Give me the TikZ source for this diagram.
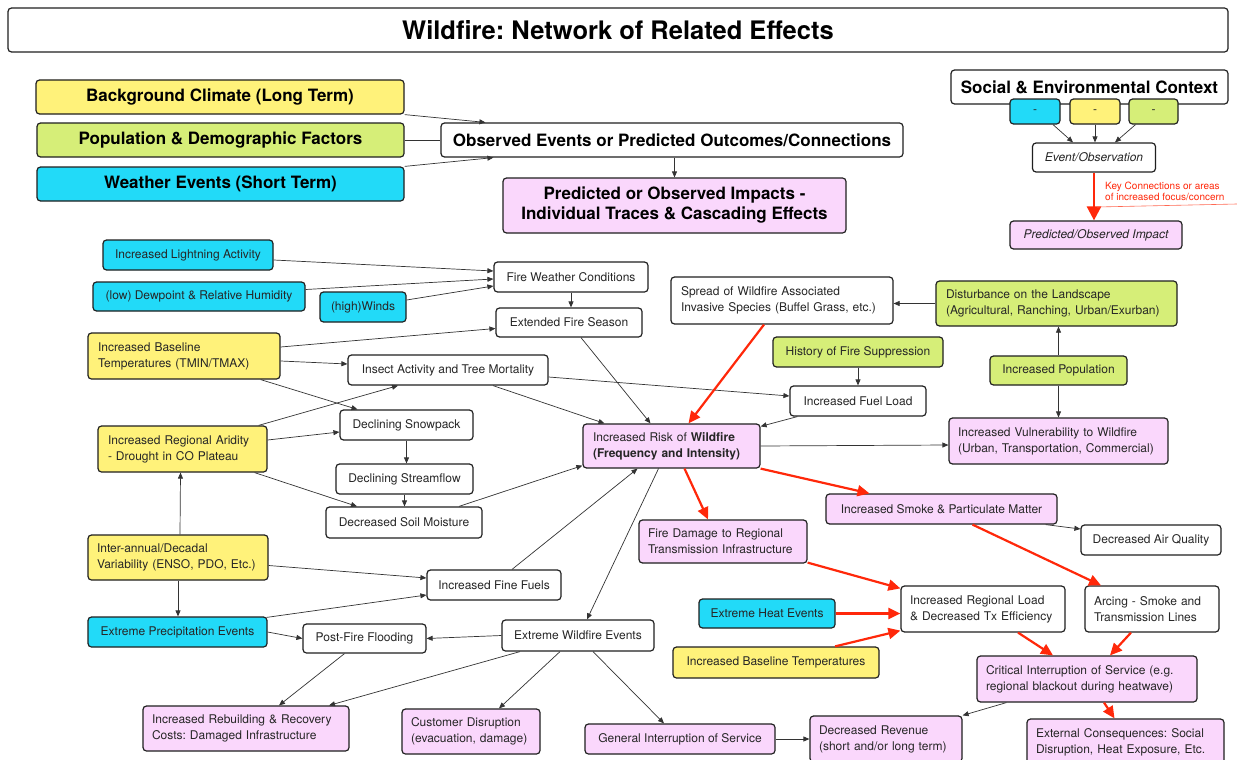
\documentclass[tikz,border=0pt]{standalone}
\usepackage{fontspec}
\setmainfont{TeX Gyre Heros}
\usetikzlibrary{arrows.meta,calc}
\definecolor{cyl}{HTML}{FFF27A}
\definecolor{cgr}{HTML}{D6EE78}
\definecolor{ccy}{HTML}{22DAF8}
\definecolor{cpk}{HTML}{FAD7FC}
\definecolor{cred}{RGB}{255,40,10}
\frenchspacing
\tikzset{
  bx/.style={draw=black!88, line width=1.2pt, rounded corners=3.5pt, inner sep=0pt,
     font=\fontsize{12}{16}\selectfont, text=black!85},
  wbox/.style={bx, fill=white},
  ybox/.style={bx, fill=cyl},
  gbox/.style={bx, fill=cgr},
  cbox/.style={bx, fill=ccy},
  pbox/.style={bx, fill=cpk},
  sz/.style 2 args={minimum width=#1, minimum height=#2},
  lt/.style={align=left, text width=#1},
  lgf/.style={font=\fontsize{17}{20}\selectfont\bfseries, text=black},
  ed/.style={draw=black!80, line width=0.7pt, -{Triangle[length=6pt,width=5pt]}},
  kedge/.style={draw=cred, line width=2.2pt, -{Triangle[length=12pt,width=11pt]}}
}
\begin{document}
\begin{tikzpicture}[x=1pt,y=-1pt]
\fill[white] (0,0) rectangle (1237,760);
\useasboundingbox (0,0) rectangle (1237,760);

% title
\node[wbox, sz={1220}{44}, font=\fontsize{25.5}{30}\selectfont\bfseries, text=black] (title) at (618,30) {Wildfire: Network of Related Effects};

% legend left
\node[ybox, sz={368}{34}, lgf] (lgclim) at (220,97) {Background Climate (Long Term)};
\node[gbox, sz={367}{34}, lgf] (lgpop) at (220.5,140) {Population \& Demographic Factors};
\node[cbox, sz={367}{34}, lgf] (lgweath) at (220.5,184) {Weather Events (Short Term)};
\node[wbox, sz={462}{34}, lgf] (lgobs) at (672,140) {Observed Events or Predicted Outcomes/Connections};
\node[pbox, sz={343}{55}, lgf, align=center] (lgimp) at (674.5,205.5) {Predicted or Observed Impacts -\\Individual Traces \& Cascading Effects};
\draw[ed] (lgclim.south east) -- ($(lgobs.north west)+(45,0)$);
\draw[draw=black!80, line width=0.7pt] (lgpop.east) -- (lgobs.west);
\draw[ed] (lgweath.north east) -- ($(lgobs.south west)+(53,0)$);
\draw[ed] (lgobs.south -| lgimp.north) -- (lgimp.north);

% legend right
\node[wbox, sz={277}{34}, lgf] (ctx) at (1089.5,87) {Social \& Environmental Context};
\node[cbox, sz={50}{25}] (c1) at (1035,111.5) {-};
\node[ybox, sz={50}{25}] (c2) at (1095,111.5) {-};
\node[gbox, sz={49}{25}] (c3) at (1153.5,111.5) {-};
\node[wbox, sz={123}{29}, font=\fontsize{12}{14}\selectfont\itshape] (evobs) at (1094,157.5) {Event/Observation};
\node[pbox, sz={172}{28}, font=\fontsize{12}{14}\selectfont\itshape] (pimp) at (1096,235) {Predicted/Observed Impact};
\draw[ed] ($(c1.south)+(18,0)$) -- ($(evobs.north)+(-21,0)$);
\draw[ed] (c2.south) -- (c2.south |- evobs.north);
\draw[ed] ($(c3.south)+(-18,0)$) -- ($(evobs.north)+(21,0)$);
\draw[kedge, line width=2.6pt, -{Triangle[length=14pt,width=14pt]}] (evobs.south) -- (evobs.south |- pimp.north);
\node[text=cred, font=\fontsize{10}{10.5}\selectfont, align=left, anchor=west, inner sep=0pt] (keytxt) at (1105,191.5) {Key Connections or areas\\of increased focus/concern};
\coordinate (keyA) at (1097,207);
\coordinate (keyB) at (1237,204);
\draw[cred!70, line width=0.6pt] (keyA) -- (keyB);

% main nodes
\node[cbox, sz={170}{30}] (light) at (188,255) {Increased Lightning Activity};
\node[cbox, sz={212}{29}] (dew) at (199,296.5) {(low) Dewpoint \& Relative Humidity};
\node[cbox, sz={86}{30}] (winds) at (363,307) {(high)Winds};
\node[wbox, sz={154}{30}] (fwc) at (571,277) {Fire Weather Conditions};
\node[wbox, sz={146}{29}] (efs) at (569,322.5) {Extended Fire Season};
\node[ybox, sz={192}{46}, lt=172] (btemp) at (184,356) {Increased Baseline\\Temperatures (TMIN/TMAX)};
\node[wbox, sz={200}{30}] (insect) at (448,370) {Insect Activity and Tree Mortality};
\node[wbox, sz={133}{30}] (snow) at (406.5,425) {Declining Snowpack};
\node[ybox, sz={169}{46}, lt=149] (arid) at (182.5,449) {Increased Regional Aridity\\- Drought in CO Plateau};
\node[wbox, sz={137}{30}] (stream) at (404.5,479) {Declining Streamflow};
\node[wbox, sz={156}{31}] (soil) at (404,522.5) {Decreased Soil Moisture};
\node[wbox, sz={222}{47}, lt=202] (spread) at (782,300.5) {Spread of Wildfire Associated\\Invasive Species (Buffel Grass, etc.)};
\node[gbox, sz={241}{45}, lt=221] (disturb) at (1056.5,303.5) {Disturbance on the Landscape\\(Agricultural, Ranching, Urban/Exurban)};
\node[gbox, sz={170}{30}] (hist) at (858,352) {History of Fire Suppression};
\node[gbox, sz={137}{29}] (pop) at (1058.5,370.5) {Increased Population};
\node[wbox, sz={136}{30}] (fuel) at (858,401) {Increased Fuel Load};
\node[pbox, sz={177}{44}, lt=157] (risk) at (671.5,446) {Increased Risk of \textbf{Wildfire}\\\textbf{(Frequency and Intensity)}};
\node[pbox, sz={219}{46}, lt=201] (vuln) at (1058.5,441) {Increased Vulnerability to Wildfire\\(Urban, Transportation, Commercial)};
\node[pbox, sz={231}{30}] (smoke) at (941.5,509) {Increased Smoke \& Particulate Matter};
\node[wbox, sz={140}{30}] (air) at (1151,540) {Decreased Air Quality};
\node[pbox, sz={168}{43}, lt=150] (firedmg) at (723,541.5) {Fire Damage to Regional\\Transmission Infrastructure};
\node[ybox, sz={180}{45}, lt=162] (inter) at (178,557.5) {Inter-annual/Decadal\\Variability (ENSO, PDO, Etc.)};
\node[wbox, sz={134}{30}] (fine) at (494,585) {Increased Fine Fuels};
\node[cbox, sz={179}{30}] (precip) at (177.5,632) {Extreme Precipitation Events};
\node[wbox, sz={123}{29}] (flood) at (364.5,638.5) {Post-Fire Flooding};
\node[wbox, sz={152}{31}] (ewe) at (578,635.5) {Extreme Wildfire Events};
\node[cbox, sz={136}{29}] (heat) at (767,613.5) {Extreme Heat Events};
\node[wbox, sz={164}{46}, lt=146] (rload) at (983,609) {Increased Regional Load\\\& Decreased Tx Efficiency};
\node[wbox, sz={134}{46}, lt=116] (arcing) at (1152,609) {Arcing - Smoke and\\Transmission Lines};
\node[ybox, sz={206}{31}] (btemp2) at (776,662.5) {Increased Baseline Temperatures};
\node[pbox, sz={220}{46}, lt=202] (crit) at (1087,679) {Critical Interruption of Service (e.g.\\regional blackout during heatwave)};
\node[pbox, sz={206}{45}, lt=188] (rebuild) at (246,728.5) {Increased Rebuilding \& Recovery\\Costs: Damaged Infrastructure};
\node[pbox, sz={138}{45}, lt=120] (cust) at (471,731.5) {Customer Disruption\\(evacuation, damage)};
\node[pbox, sz={190}{30}] (gis) at (680,739) {General Interruption of Service};
\node[pbox, sz={152}{46}, lt=134] (rev) at (886,739) {Decreased Revenue\\(short and/or long term)};
\node[pbox, sz={197}{46}, lt=179] (ext) at (1125.5,742) {External Consequences: Social\\Disruption, Heat Exposure, Etc.};

% black connectors
\draw[ed] ($(light.east)+(0,5)$) -- ($(fwc.west)+(0,-6)$);
\draw[ed] ($(dew.east)+(0,-7)$) -- ($(fwc.west)+(0,2)$);
\draw[ed] ($(winds.east)+(0,-7)$) -- ($(fwc.west)+(0,9)$);
\draw[ed] (fwc.south) -- (fwc.south |- efs.north);
\draw[ed] ($(btemp.east)+(0,-9)$) -- ($(efs.west)+(0,6)$);
\draw[ed] ($(btemp.east)+(0,5)$) -- ($(insect.west)+(0,-6)$);
\draw[ed] ($(btemp.south east)+(-20,0)$) -- ($(snow.north)+(-49,0)$);
\draw[ed] ($(arid.north east)+(-9,0)$) -- ($(insect.south)+(-50,0)$);
\draw[ed] ($(arid.east)+(0,-9)$) -- ($(snow.west)+(0,7)$);
\draw[ed] ($(arid.south east)+(-13,0)$) -- ($(soil.north)+(-47,0)$);
\draw[ed] (snow.south) -- (snow.south |- stream.north);
\draw[ed] (stream.south) -- (stream.south |- soil.north);
\draw[ed] ($(soil.north)+(55,0)$) -- ($(risk.south west)+(0,-3)$);
\draw[ed] ($(efs.south)+(12,0)$) -- ($(risk.north)+(-21,0)$);
\draw[ed] ($(insect.south)+(45,0)$) -- ($(risk.north)+(-67,0)$);
\draw[ed] ($(insect.east)+(0,7)$) -- ($(fuel.west)+(0,-5)$);
\draw[ed] (hist.south) -- (hist.south |- fuel.north);
\draw[ed] ($(fuel.south west)+(8,0)$) -- ($(risk.north east)+(0,3)$);
\draw[ed] (disturb.west) -- (disturb.west -| spread.east);
\draw[ed] (pop.north) -- (pop.north |- disturb.south);
\draw[ed] (pop.south) -- (pop.south |- vuln.north);
\draw[ed] (risk.east) -- ($(vuln.west)+(0,4)$);
\draw[ed] ($(inter.north)+(2,0)$) -- ($(arid.south)+(-2,0)$);
\draw[ed] (inter.south) -- (inter.south |- precip.north);
\draw[ed] ($(inter.east)+(0,8)$) -- ($(fine.west)+(0,-7)$);
\draw[ed] ($(precip.north east)+(-1,1)$) -- ($(fine.west)+(0,10)$);
\draw[ed] (precip.east) -- (flood.west);
\draw[ed] ($(fine.north)+(18,0)$) -- ($(risk.south)+(-34,0)$);
\draw[ed] ($(risk.south)+(-13,0)$) -- ($(ewe.north)+(9,0)$);
\draw[ed] (ewe.west) -- (flood.east);
\draw[ed] ($(flood.south)+(-20,0)$) -- ($(rebuild.north)+(33,0)$);
\draw[ed] ($(ewe.south)+(-58,0)$) -- ($(rebuild.north)+(83,0)$);
\draw[ed] ($(ewe.south)+(-18,0)$) -- ($(cust.north)+(28,0)$);
\draw[ed] ($(ewe.south)+(15,0)$) -- ($(gis.north)+(-16,0)$);
\draw[ed] (gis.east) -- (rev.west);
\draw[ed] ($(crit.south west)+(30,0)$) -- (rev.north east);
\draw[ed] ($(smoke.south east)+(-12,0)$) -- ($(air.west)+(0,-11)$);

% red key connectors
\draw[kedge] ($(spread.south)+(-18,0)$) -- ($(risk.north)+(17,0)$);
\draw[kedge] ($(risk.south)+(13,0)$) -- ($(firedmg.north)+(-15,0)$);
\draw[kedge] (risk.south east) -- ($(smoke.north)+(-72,0)$);
\draw[kedge] ($(firedmg.south east)+(0,-1)$) -- ($(rload.north west)+(0,3)$);
\draw[kedge] (heat.east) -- (heat.east -| rload.west);
\draw[kedge] ($(btemp2.north)+(59,0)$) -- ($(rload.south west)+(0,-2)$);
\draw[kedge] ($(smoke.south)+(31,0)$) -- ($(arcing.north)+(-51,0)$);
\draw[kedge] ($(rload.south)+(35,0)$) -- ($(crit.north)+(-34,0)$);
\draw[kedge] ($(arcing.south)+(-21,0)$) -- ($(crit.north)+(23,0)$);
\draw[kedge] ($(crit.south)+(17,0)$) -- ($(ext.north)+(-11,0)$);
\end{tikzpicture}
\end{document}
